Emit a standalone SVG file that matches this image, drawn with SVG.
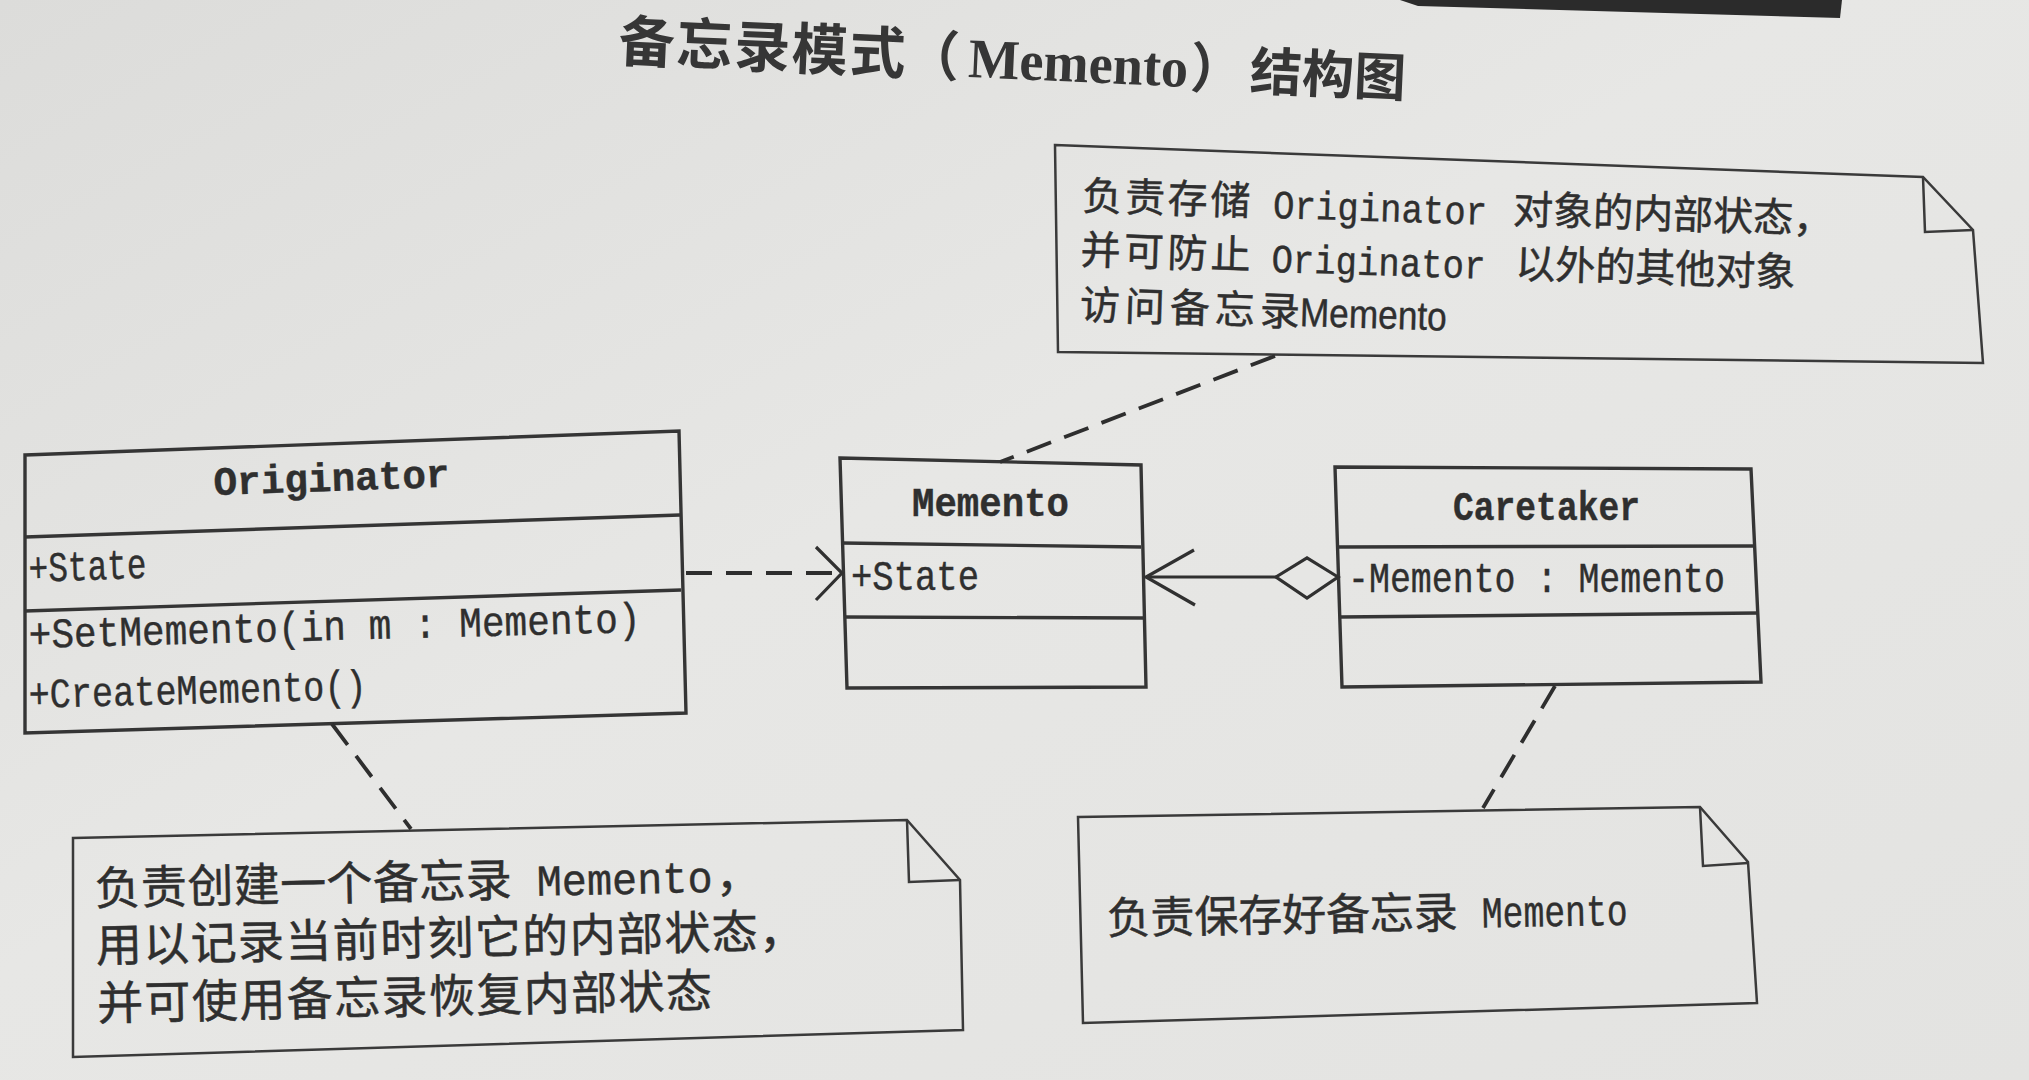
<svg xmlns="http://www.w3.org/2000/svg" width="2029" height="1080" viewBox="0 0 2029 1080">
<defs>
<linearGradient id="paper" x1="0" y1="0" x2="1" y2="1">
<stop offset="0" stop-color="#dcdcda"/>
<stop offset="0.45" stop-color="#e7e7e5"/>
<stop offset="1" stop-color="#e3e3e1"/>
</linearGradient>
<style>
.box{fill:none;stroke:#353535;stroke-width:3.4;stroke-linejoin:miter}
.note{fill:none;stroke:#3a3a3a;stroke-width:2.5;stroke-linejoin:miter}
.dash{fill:none;stroke:#2e2e2e;stroke-width:3.8;stroke-dasharray:26 14}
.solid{fill:none;stroke:#303030;stroke-width:3.2}
.cn{font-family:"Noto Sans CJK SC",sans-serif;fill:#2f2f2f;stroke:#2f2f2f;stroke-width:0.5}
.mono{font-family:"Liberation Mono","DejaVu Sans Mono",monospace;fill:#2f2f2f;stroke:#2f2f2f;stroke-width:0.4}
.sans{font-family:"Liberation Sans",Arial,sans-serif;fill:#2f2f2f;stroke:#2f2f2f;stroke-width:0.4}
.ttl{font-family:"Noto Sans CJK SC",sans-serif;font-weight:700;fill:#363636}
.ttlm{font-family:"Liberation Serif","Times New Roman",serif;font-weight:700;fill:#363636}
</style>
</defs>
<rect x="0" y="0" width="2029" height="1080" fill="url(#paper)"/>
<polygon points="1400,0 1842,0 1840,18 1418,6" fill="#2b2b2b"/>

<g id="title" transform="rotate(2.6 618 61)">
<text class="ttl" x="618" y="61" font-size="56" textLength="287">备忘录模式</text>
<text class="ttl" x="905" y="61" font-size="54">（</text>
<text class="ttlm" x="968" y="61" font-size="56" textLength="220" lengthAdjust="spacingAndGlyphs">Memento</text>
<text class="ttl" x="1190" y="61" font-size="54">）</text>
<text class="ttl" x="1250" y="61" font-size="52" textLength="156">结构图</text>
</g>

<g id="originator">
<path class="box" d="M25,455 L679,431 L686,713 L25,733 Z"/>
<path class="box" d="M25,537 L680,515"/>
<path class="box" d="M25,611 L681,590"/>
<text class="mono" font-weight="700" x="214" y="495" font-size="40" textLength="236" lengthAdjust="spacingAndGlyphs" transform="rotate(-2 214 495)">Originator</text>
<text class="mono" x="29" y="582" font-size="42" textLength="118" lengthAdjust="spacingAndGlyphs" transform="rotate(-2 29 582)">+State</text>
<text class="mono" x="29" y="648" font-size="42" textLength="612" lengthAdjust="spacingAndGlyphs" transform="rotate(-1.5 29 648)">+SetMemento(in m : Memento)</text>
<text class="mono" x="29" y="708" font-size="42" textLength="338" lengthAdjust="spacingAndGlyphs" transform="rotate(-1.5 29 708)">+CreateMemento()</text>
</g>

<g id="memento">
<path class="box" d="M840,458 L1141,465 L1146,687 L847,688 Z"/>
<path class="box" d="M842,543 L1141,547"/>
<path class="box" d="M845,617 L1143,618"/>
<text class="mono" font-weight="700" x="912" y="516" font-size="40" textLength="157" lengthAdjust="spacingAndGlyphs">Memento</text>
<text class="mono" x="851" y="590" font-size="42" textLength="128" lengthAdjust="spacingAndGlyphs">+State</text>
</g>

<g id="caretaker">
<path class="box" d="M1335,467 L1751,469 L1761,682 L1342,687 Z"/>
<path class="box" d="M1337,547 L1753,546"/>
<path class="box" d="M1340,617 L1758,613"/>
<text class="mono" font-weight="700" x="1453" y="520" font-size="40" textLength="187" lengthAdjust="spacingAndGlyphs">Caretaker</text>
<text class="mono" x="1348" y="592" font-size="42" textLength="377" lengthAdjust="spacingAndGlyphs">-Memento : Memento</text>
</g>

<g id="note-memento">
<polygon class="note" points="1055,145 1923,177 1973,230 1983,363 1058,352"/>
<polyline class="note" points="1923,177 1925,232 1973,230"/>
<g transform="rotate(1.8 1082 210)">
<text class="cn" x="1082" y="210" font-size="40" textLength="168">负责存储</text>
<text class="mono" x="1273" y="212" font-size="40" textLength="214" lengthAdjust="spacingAndGlyphs">Originator</text>
<text class="cn" x="1513" y="210" font-size="40" textLength="280">对象的内部状态</text>
<text class="cn" x="1793" y="210" font-size="40">，</text>
<text class="cn" x="1082" y="264" font-size="40" textLength="170">并可防止</text>
<text class="mono" x="1273" y="266" font-size="40" textLength="214" lengthAdjust="spacingAndGlyphs">Originator</text>
<text class="cn" x="1517" y="264" font-size="40" textLength="280">以外的其他对象</text>
<text class="cn" x="1083" y="319" font-size="40" textLength="220">访问备忘录</text>
<text class="sans" x="1303" y="319" font-size="40" textLength="147" lengthAdjust="spacingAndGlyphs">Memento</text>
</g>
</g>

<g id="note-originator">
<polygon class="note" points="73,838 907,820 960,880 963,1030 73,1057"/>
<polyline class="note" points="907,820 909,882 960,880"/>
<g transform="rotate(-1.2 95 905)">
<text class="cn" x="95" y="905" font-size="46" textLength="417">负责创建一个备忘录</text>
<text class="mono" x="537" y="905" font-size="44" textLength="176" lengthAdjust="spacingAndGlyphs">Memento</text>
<text class="cn" x="716" y="905" font-size="46">，</text>
<text class="cn" x="95" y="962" font-size="46" textLength="662">用以记录当前时刻它的内部状态</text>
<text class="cn" x="758" y="962" font-size="46">，</text>
<text class="cn" x="95" y="1020" font-size="46" textLength="615">并可使用备忘录恢复内部状态</text>
</g>
</g>

<g id="note-caretaker">
<polygon class="note" points="1078,817 1700,807 1748,862 1757,1003 1083,1023"/>
<polyline class="note" points="1700,807 1703,866 1748,863"/>
<g transform="rotate(-1 1107 934)">
<text class="cn" x="1107" y="934" font-size="44" textLength="351">负责保存好备忘录</text>
<text class="mono" x="1482" y="934" font-size="44" textLength="146" lengthAdjust="spacingAndGlyphs">Memento</text>
</g>
</g>

<g id="connectors">
<path class="dash" d="M686,573 L838,573"/>
<path class="solid" d="M816,547 L842,573 L816,600"/>
<path class="solid" d="M1146,577 L1276,577"/>
<path class="solid" d="M1194,550 L1146,577 L1195,605"/>
<polygon points="1338,577 1307,558 1276,577 1307,598" fill="#e6e6e4" stroke="#303030" stroke-width="3.2"/>
<path class="dash" d="M1275,356 L1000,462"/>
<path class="dash" d="M332,724 L411,829"/>
<path class="dash" d="M1555,686 L1483,808"/>
</g>
</svg>
